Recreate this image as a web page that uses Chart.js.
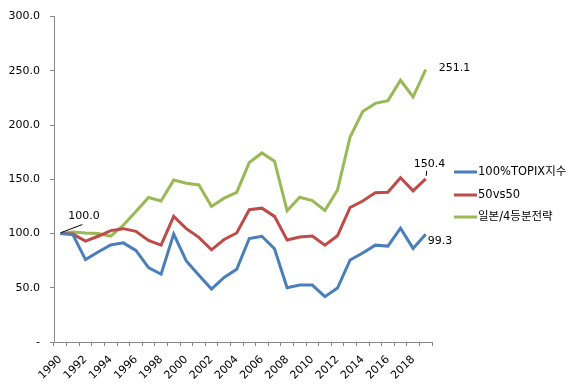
<!DOCTYPE html>
<html>
<head>
<meta charset="utf-8">
<script src="https://cdn.jsdelivr.net/npm/chart.js@4"></script>
<style>
	html, body { margin: 0; padding: 0; background: #fff; }
	#wrap { width: 580px; height: 389px; }
</style>
</head>
<body>
<div id="wrap"><canvas id="Graphe1" width="580" height="389"></canvas></div>
<script>
'use strict';

var years = [];
for (var y = 1990; y <= 2019; y++) years.push(String(y));

var topix = [100, 99, 76, 83, 89.5, 91.4, 84.5, 68.5, 62.5, 99.5,
	74.7, 61.5, 48.8, 59.5, 67, 95.4, 97.5, 86, 50, 52.5,
	52.5, 41.8, 49.7, 75.6, 82, 89.3, 88.4, 105, 86.3, 99.3];
var fifty = [100, 99.5, 93, 97.5, 102.7, 104.5, 102, 93.6, 89.3, 115.8,
	104.5, 96.5, 85, 94.5, 100.5, 122, 123.4, 115.8, 94, 96.8,
	97.8, 89.3, 98, 124, 130, 137.7, 138, 151.5, 139.3, 150.4];
var japan = [100, 101.5, 100.5, 100, 97.5, 107.6, 120.4, 133.2, 130, 149.3,
	146.3, 144.8, 125, 132.6, 138, 165.5, 174.3, 166.7, 121, 133.5,
	130.4, 121.3, 140.2, 189, 212.4, 220, 222.5, 241.3, 226, 251.1];

var names = ['100%TOPIX지수', '50vs50', '일본/4등분전략'];
var colors = ['#4a7ebb', '#be4b48', '#98b954'];
var yTicks = [0, 50, 100, 150, 200, 250, 300];

var font = '11px "DejaVu Sans", "Noto Sans CJK KR", sans-serif';
var legendFont = '11.5px "DejaVu Sans", "Noto Sans CJK KR", sans-serif';

// legend + data labels drawn by hand
var extras = {
	id: 'extras',
	afterDatasetsDraw: function (chart) {
		var ctx = chart.ctx;
		var xs = chart.scales.x, ys = chart.scales.y;
		var last = years.length - 1;
		ctx.save();
		ctx.font = font;
		ctx.fillStyle = '#000';
		ctx.textBaseline = 'middle';
		ctx.textAlign = 'left';

		// start label
		var x0 = xs.getPixelForValue(0), y0 = ys.getPixelForValue(topix[0]);
		ctx.strokeStyle = '#000';
		ctx.lineWidth = 1;
		ctx.beginPath();
		ctx.moveTo(x0 + 1, y0 - 1);
		ctx.lineTo(x0 + 22, y0 - 9);
		ctx.stroke();
		ctx.fillText(topix[0].toFixed(1), x0 + 8, y0 - 17);

		// end labels
		var xl = xs.getPixelForValue(last);
		ctx.fillText(japan[last].toFixed(1), xl + 13, ys.getPixelForValue(japan[last]) - 1);
		ctx.fillText(topix[last].toFixed(1), xl + 2, ys.getPixelForValue(topix[last]) + 7);
		var yr = ys.getPixelForValue(fifty[last]);
		ctx.beginPath();
		ctx.moveTo(xl + 0.5, yr - 3);
		ctx.lineTo(xl + 1, yr - 8);
		ctx.stroke();
		ctx.fillText(fifty[last].toFixed(1), xl - 12, yr - 15);

		// legend
		ctx.font = legendFont;
		var ly = [172, 195, 217];
		for (var i = 0; i < names.length; i++) {
			ctx.strokeStyle = colors[i];
			ctx.lineWidth = 3;
			ctx.beginPath();
			ctx.moveTo(454, ly[i]);
			ctx.lineTo(477, ly[i]);
			ctx.stroke();
			ctx.fillText(names[i], 478, ly[i]);
		}
		ctx.restore();
	}
};

var chart = new Chart(document.getElementById('Graphe1'), {
	type: 'line',
	data: {
		labels: years,
		datasets: [
			{ label: names[0], data: topix, borderColor: colors[0] },
			{ label: names[1], data: fifty, borderColor: colors[1] },
			{ label: names[2], data: japan, borderColor: colors[2] }
		]
	},
	options: {
		responsive: false,
		animation: false,
		events: [],
		layout: { padding: { left: 0, top: 13, right: 148, bottom: 0 } },
		elements: {
			line: { borderWidth: 3, tension: 0 },
			point: { radius: 0 }
		},
		plugins: {
			legend: { display: false },
			tooltip: { enabled: false }
		},
		scales: {
			x: {
				type: 'category',
				offset: true,
				afterFit: function (s) { s.height = 47; },
				grid: {
					offset: true,
					drawOnChartArea: false,
					drawTicks: true,
					tickLength: 4,
					color: '#888'
				},
				border: { display: true, color: '#888', width: 1 },
				ticks: {
					autoSkip: false,
					minRotation: 45,
					maxRotation: 45,
					padding: 7,
					color: '#000',
					font: { family: '"DejaVu Sans", sans-serif', size: 11 },
					callback: function (v, i) { return i % 2 === 0 ? years[i] : ''; }
				}
			},
			y: {
				min: 0,
				max: 300,
				afterFit: function (s) { s.width = 54; },
				afterBuildTicks: function (s) { s.ticks = yTicks.map(function (v) { return { value: v }; }); },
				grid: {
					drawOnChartArea: false,
					drawTicks: true,
					tickLength: 4,
					color: '#888'
				},
				border: { display: true, color: '#888', width: 1 },
				ticks: {
					color: '#000',
					padding: 10,
					font: { family: '"DejaVu Sans", sans-serif', size: 11 },
					callback: function (v) { return v === 0 ? '-' : v.toFixed(1); }
				}
			}
		}
	},
	plugins: [extras]
});
</script>
</body>
</html>
